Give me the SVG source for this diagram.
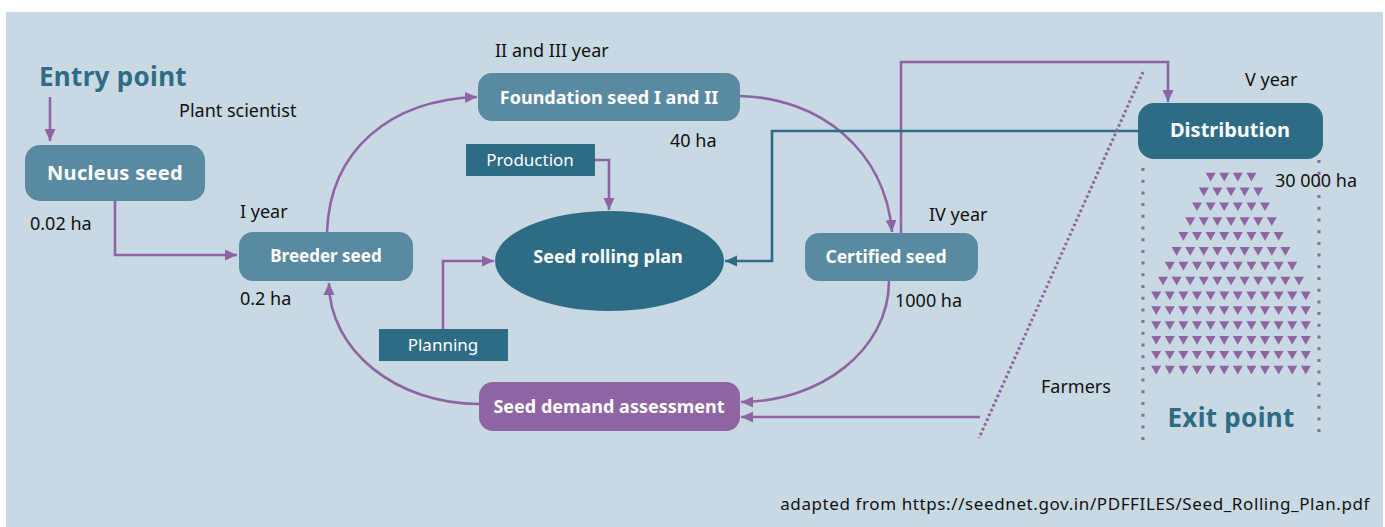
<svg xmlns="http://www.w3.org/2000/svg" width="1385" height="527" viewBox="0 0 1385 527">
<style>
.t{font-family:"Noto Sans","Liberation Sans",sans-serif;}
.lbl{font-family:"Noto Sans","Liberation Sans",sans-serif;font-size:18px;fill:#111;}
.nt{font-family:"Noto Sans","Liberation Sans",sans-serif;font-weight:bold;fill:#fff;text-anchor:middle;}
.bt{font-family:"Noto Sans","Liberation Sans",sans-serif;fill:#fff;text-anchor:middle;font-size:17px;}
.node{fill:#5a8aa1;}
.dark{fill:#2e6b85;}
.pl{fill:none;stroke:#8e64a3;stroke-width:2.6;}
.tl{fill:none;stroke:#2e6b85;stroke-width:2.6;}
.dot{fill:none;stroke:#8e64a3;stroke-width:3;}
.big{font-family:"Noto Sans","Liberation Sans",sans-serif;font-weight:bold;font-size:26px;fill:#2e6b85;}
.tri{fill:#8e64a3;}
</style>
<defs>
<marker id="ap" markerUnits="userSpaceOnUse" markerWidth="13" markerHeight="12" refX="12" refY="6" orient="auto" viewBox="0 0 13 12"><path d="M0,0.5 L12,6 L0,11.5 Z" fill="#8e64a3"/></marker>
<marker id="at" markerUnits="userSpaceOnUse" markerWidth="13" markerHeight="12" refX="12" refY="6" orient="auto" viewBox="0 0 13 12"><path d="M0,0.5 L12,6 L0,11.5 Z" fill="#2e6b85"/></marker>
<path id="r12" d="M0,0 l10,0 l-5,8.7z m13.6,0 l10,0 l-5,8.7z m13.6,0 l10,0 l-5,8.7z m13.6,0 l10,0 l-5,8.7z m13.6,0 l10,0 l-5,8.7z m13.6,0 l10,0 l-5,8.7z m13.6,0 l10,0 l-5,8.7z m13.6,0 l10,0 l-5,8.7z m13.6,0 l10,0 l-5,8.7z m13.6,0 l10,0 l-5,8.7z m13.6,0 l10,0 l-5,8.7z m13.6,0 l10,0 l-5,8.7z"/>
</defs>
<rect x="6" y="12" width="1377" height="515" fill="#c9d9e3"/>

<g id="connectors">
<path class="pl" d="M50,97 V141" marker-end="url(#ap)"/>
<path class="pl" d="M115,201 V255 H237" marker-end="url(#ap)"/>
<path class="pl" d="M327,232 C330,150 390,100 477,97" marker-end="url(#ap)"/>
<path class="pl" d="M740,96 C820,98 885,150 892,232" marker-end="url(#ap)"/>
<path class="pl" d="M901,233 V62 H1168 V102" marker-end="url(#ap)"/>
<path class="tl" d="M1138,131 H772 V261 H725" marker-end="url(#at)"/>
<path class="pl" d="M595,160 H609 V210" marker-end="url(#ap)"/>
<path class="pl" d="M443,329 V261 H494" marker-end="url(#ap)"/>
<path class="pl" d="M889,281 C889,350 820,402 741,402" marker-end="url(#ap)"/>
<path class="pl" d="M980,417 H741" marker-end="url(#ap)"/>
<path class="pl" d="M479,404 C396,404 329,350 329,283" marker-end="url(#ap)"/>
</g>

<g id="dotted">
<path class="dot" d="M1143,72 L979,438" stroke-width="2.6" stroke-dasharray="2.6 2.6"/>
<path class="dot" d="M1143,168 V440" stroke-dasharray="3 8.7"/>
<path class="dot" d="M1319,160 V440" stroke-dasharray="3 8.7"/>
</g>

<g id="entry"><text class="big" x="39" y="86" letter-spacing="0.3">Entry point</text></g>
<text class="lbl" x="179" y="117">Plant scientist</text>

<g id="nucleus"><rect class="node" x="25" y="145" width="180" height="56" rx="15"/><text class="nt" x="115" y="180" font-size="20" letter-spacing="0.3">Nucleus seed</text></g>
<text class="lbl" x="30" y="230">0.02 ha</text>

<g id="breeder"><rect class="node" x="239" y="232" width="174" height="49" rx="14"/><text class="nt" x="326" y="262" font-size="17">Breeder seed</text></g>
<text class="lbl" x="240" y="218">I year</text>
<text class="lbl" x="240" y="305">0.2 ha</text>

<g id="foundation"><rect class="node" x="478" y="73" width="262" height="48" rx="14"/><text class="nt" x="609" y="104" font-size="18">Foundation seed I and II</text></g>
<text class="lbl" x="495" y="57">II and III year</text>
<text class="lbl" x="670" y="147">40 ha</text>

<g id="production"><rect class="dark" x="466" y="144" width="129" height="32"/><text class="bt" x="530" y="166">Production</text></g>

<g id="plan"><ellipse class="dark" cx="609.5" cy="261" rx="114.5" ry="50"/><text class="nt" x="608" y="263" font-size="18">Seed rolling plan</text></g>

<g id="planning"><rect class="dark" x="379" y="329" width="129" height="32"/><text class="bt" x="443" y="351">Planning</text></g>

<g id="certified"><rect class="node" x="805" y="233" width="173" height="48" rx="14"/><text class="nt" x="886" y="263" font-size="17.5">Certified seed</text></g>
<text class="lbl" x="929" y="221">IV year</text>
<text class="lbl" x="895" y="307">1000 ha</text>

<g id="demand"><rect x="479" y="382" width="261" height="49" rx="14" fill="#8e64a3"/><text class="nt" x="609" y="413" font-size="18">Seed demand assessment</text></g>

<g id="distribution"><rect class="dark" x="1138" y="103" width="185" height="56" rx="16"/><text class="nt" x="1230" y="137" font-size="20">Distribution</text></g>
<text class="lbl" x="1245" y="86">V year</text>
<text class="lbl" x="1275" y="187">30 000 ha</text>

<g id="farmers"><text class="lbl" x="1041" y="393">Farmers</text></g>

<g id="triangles" class="tri">
<path d="M1205.6,172.7 l10,0 l-5,8.7z m13.6,0 l10,0 l-5,8.7z m13.6,0 l10,0 l-5,8.7z m13.6,0 l10,0 l-5,8.7z"/>
<path d="M1198.8,187.55 l10,0 l-5,8.7z m13.6,0 l10,0 l-5,8.7z m13.6,0 l10,0 l-5,8.7z m13.6,0 l10,0 l-5,8.7z m13.6,0 l10,0 l-5,8.7z"/>
<path d="M1192,202.4 l10,0 l-5,8.7z m13.6,0 l10,0 l-5,8.7z m13.6,0 l10,0 l-5,8.7z m13.6,0 l10,0 l-5,8.7z m13.6,0 l10,0 l-5,8.7z m13.6,0 l10,0 l-5,8.7z"/>
<path d="M1185.2,217.25 l10,0 l-5,8.7z m13.6,0 l10,0 l-5,8.7z m13.6,0 l10,0 l-5,8.7z m13.6,0 l10,0 l-5,8.7z m13.6,0 l10,0 l-5,8.7z m13.6,0 l10,0 l-5,8.7z m13.6,0 l10,0 l-5,8.7z"/>
<path d="M1178.4,232.1 l10,0 l-5,8.7z m13.6,0 l10,0 l-5,8.7z m13.6,0 l10,0 l-5,8.7z m13.6,0 l10,0 l-5,8.7z m13.6,0 l10,0 l-5,8.7z m13.6,0 l10,0 l-5,8.7z m13.6,0 l10,0 l-5,8.7z m13.6,0 l10,0 l-5,8.7z"/>
<path d="M1171.6,246.95 l10,0 l-5,8.7z m13.6,0 l10,0 l-5,8.7z m13.6,0 l10,0 l-5,8.7z m13.6,0 l10,0 l-5,8.7z m13.6,0 l10,0 l-5,8.7z m13.6,0 l10,0 l-5,8.7z m13.6,0 l10,0 l-5,8.7z m13.6,0 l10,0 l-5,8.7z m13.6,0 l10,0 l-5,8.7z"/>
<path d="M1164.8,261.8 l10,0 l-5,8.7z m13.6,0 l10,0 l-5,8.7z m13.6,0 l10,0 l-5,8.7z m13.6,0 l10,0 l-5,8.7z m13.6,0 l10,0 l-5,8.7z m13.6,0 l10,0 l-5,8.7z m13.6,0 l10,0 l-5,8.7z m13.6,0 l10,0 l-5,8.7z m13.6,0 l10,0 l-5,8.7z m13.6,0 l10,0 l-5,8.7z"/>
<path d="M1158,276.65 l10,0 l-5,8.7z m13.6,0 l10,0 l-5,8.7z m13.6,0 l10,0 l-5,8.7z m13.6,0 l10,0 l-5,8.7z m13.6,0 l10,0 l-5,8.7z m13.6,0 l10,0 l-5,8.7z m13.6,0 l10,0 l-5,8.7z m13.6,0 l10,0 l-5,8.7z m13.6,0 l10,0 l-5,8.7z m13.6,0 l10,0 l-5,8.7z m13.6,0 l10,0 l-5,8.7z"/>
<use href="#r12" x="1151.2" y="291.5"/>
<use href="#r12" x="1151.2" y="306.35"/>
<use href="#r12" x="1151.2" y="321.2"/>
<use href="#r12" x="1151.2" y="336.05"/>
<use href="#r12" x="1151.2" y="350.9"/>
<use href="#r12" x="1151.2" y="365.75"/>
</g>

<g id="exit"><text class="big" x="1231" y="427" text-anchor="middle" letter-spacing="0.3">Exit point</text></g>

<text class="t" x="1370" y="510" font-size="17" fill="#111" text-anchor="end" letter-spacing="0.6">adapted from https://seednet.gov.in/PDFFILES/Seed_Rolling_Plan.pdf</text>
</svg>
